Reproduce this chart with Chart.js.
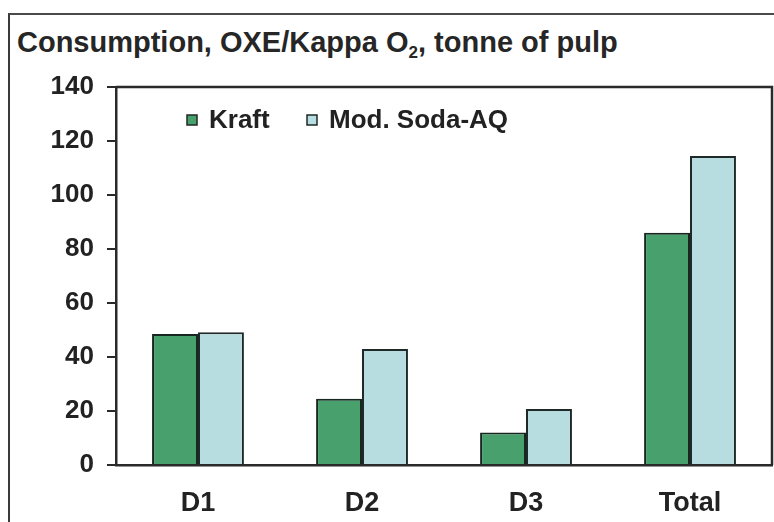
<!DOCTYPE html>
<html>
<head>
<meta charset="utf-8">
<script src="https://cdn.jsdelivr.net/npm/chart.js@4.4.1/dist/chart.umd.min.js"></script>
<style>
  html, body { margin: 0; padding: 0; background: #fff; }
  #wrap { position: relative; width: 774px; height: 522px; overflow: hidden; }
  #frame { position: absolute; left: 8px; top: 13px; width: 800px; height: 600px;
           border-left: 2px solid #3a3a3a; border-top: 2px solid #4a4a4a; }
  #title { position: absolute; left: 17px; top: 26px; font-family: "Liberation Sans", Arial, sans-serif;
           font-weight: bold; font-size: 29px; color: #262626; white-space: nowrap; }
  #title sub { font-size: 17px; vertical-align: -6px; line-height: 0; }
  canvas { position: absolute; left: 0; top: 0; }
</style>
</head>
<body>
<div id="wrap">
  <div id="frame"></div>
  <div id="title">Consumption, OXE/Kappa O<sub>2</sub>, tonne of pulp</div>
  <canvas id="chart" width="774" height="522"></canvas>
</div>
<script>
const categories = ['D1', 'D2', 'D3', 'Total'];
const kraft = [48.5, 24.5, 12, 86];
const sodaAQ = [49.2, 43, 20.7, 114.4];
const seriesNames = ['Kraft', 'Mod. Soda-AQ'];
const yTicks = [0, 20, 40, 60, 80, 100, 120, 140];

const FONT = '"Liberation Sans", Arial, sans-serif';
const INK = '#222';

// plot box top/right border plus the legend inside the plot area
const framePlugin = {
    id: 'framePlugin',
    afterDraw(chart) {
        const ctx = chart.ctx;
        const a = chart.chartArea;
        ctx.save();
        ctx.strokeStyle = '#2a2a2a';
        ctx.lineWidth = 2.5;
        ctx.beginPath();
        ctx.moveTo(a.left, a.top);
        ctx.lineTo(a.right, a.top);
        ctx.lineTo(a.right, a.bottom);
        ctx.stroke();

        // legend
        const xs = [a.left + 71, a.left + 191];
        const cy = a.top + 33;
        ctx.font = 'bold 26px ' + FONT;
        ctx.textBaseline = 'middle';
        chart.data.datasets.forEach((ds, i) => {
            ctx.fillStyle = ds.backgroundColor;
            ctx.strokeStyle = '#1d2a24';
            ctx.lineWidth = 1.5;
            ctx.fillRect(xs[i], cy - 5, 10, 10);
            ctx.strokeRect(xs[i], cy - 5, 10, 10);
            ctx.fillStyle = INK;
            ctx.fillText(ds.label, xs[i] + 22, cy + 1);
        });
        ctx.restore();
    }
};

const ctx = document.getElementById('chart').getContext('2d');
new Chart(ctx, {
    type: 'bar',
    data: {
        labels: categories,
        datasets: [{
            label: seriesNames[0],
            data: kraft,
            backgroundColor: '#48a06d',
            borderColor: '#17271f',
            borderWidth: 2,
            borderSkipped: 'bottom'
        }, {
            label: seriesNames[1],
            data: sodaAQ,
            backgroundColor: '#b8dde1',
            borderColor: '#1d2a28',
            borderWidth: 2,
            borderSkipped: 'bottom'
        }]
    },
    options: {
        responsive: false,
        animation: false,
        layout: { padding: { top: 87, right: 2, left: 0, bottom: 0 } },
        plugins: {
            legend: { display: false },
            title: { display: false },
            tooltip: { enabled: false }
        },
        datasets: {
            bar: { categoryPercentage: 0.56, barPercentage: 1 }
        },
        scales: {
            x: {
                grid: { display: false },
                border: { display: true, color: '#2a2a2a', width: 2.5 },
                ticks: { color: INK, font: { family: FONT, size: 27, weight: 'bold' }, padding: 14 },
                afterFit(scale) { scale.height = 57; }
            },
            y: {
                min: 0,
                max: 140,
                afterBuildTicks(scale) { scale.ticks = yTicks.map(v => ({ value: v })); },
                grid: { display: true, drawOnChartArea: false, drawTicks: true, tickLength: 9, color: '#2a2a2a', lineWidth: 2 },
                border: { display: true, color: '#2a2a2a', width: 2.5 },
                ticks: { color: INK, font: { family: FONT, size: 26, weight: 'bold' }, padding: 13 },
                afterFit(scale) { scale.width = 116; }
            }
        }
    },
    plugins: [framePlugin]
});
</script>
</body>
</html>
